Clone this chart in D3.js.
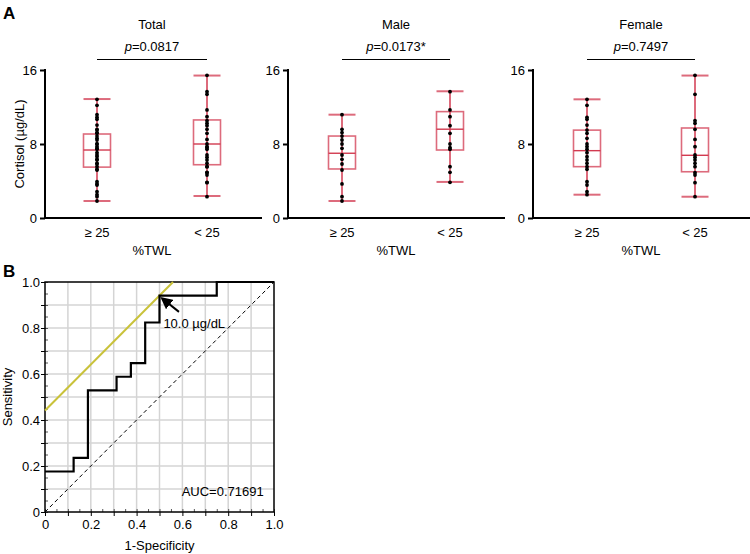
<!DOCTYPE html>
<html><head><meta charset="utf-8">
<script src="https://cdn.jsdelivr.net/npm/d3@7"></script>
<style>body{margin:0;background:#fff}svg{font-family:"Liberation Sans",Arial,sans-serif}</style>
</head><body><svg id="c" width="750" height="554"></svg>
<script>
// ---------- Data ----------
const groups = ["≥ 25", "< 25"];
const panelTitles = ["Total", "Male", "Female"];
const pValues = ["0.0817", "0.0173*", "0.7497"];
const yTicks = [0, 8, 16];

// box stats: [min, q1, median, q3, max]
const totalBox = [[1.84, 5.5, 7.35, 9.08, 12.86], [2.38, 5.76, 8.0, 10.6, 15.4]];
const maleBox = [[1.84, 5.3, 7.0, 8.86, 11.17], [3.9, 7.35, 9.6, 11.5, 13.7]];
const femaleBox = [[2.52, 5.55, 7.28, 9.5, 12.83], [2.3, 5.0, 6.78, 9.73, 15.4]];

const maleGE25 = [11.17, 9.59, 9.23, 8.86, 8.43, 8.0, 7.53, 6.81, 6.34, 5.84, 5.19, 3.68, 2.31, 1.84];
const maleLT25 = [13.66, 11.68, 10.95, 9.98, 9.15, 8.0, 7.6, 7.43, 5.55, 4.94, 3.86];
const femaleGE25 = [12.83, 12.18, 10.88, 10.67, 10.05, 9.51, 9.15, 8.61, 8.0, 7.71, 7.42, 7.06, 6.63, 6.27, 5.91, 5.55, 5.26, 3.93, 3.57, 2.85, 2.52];
const femaleLT25 = [15.42, 13.37, 10.52, 10.23, 9.59, 8.5, 7.71, 6.81, 6.56, 6.27, 5.91, 5.55, 4.9, 4.65, 3.82, 2.31];
const totalGE25 = [12.83, 12.18, 11.17, 10.88, 10.67, 10.05, 9.59, 9.51, 9.23, 9.15, 8.86, 8.61, 8.43, 8.0, 8.0, 7.71, 7.53, 7.42, 7.06, 6.81, 6.63, 6.34, 6.27, 5.91, 5.84, 5.55, 5.26, 5.19, 3.93, 3.68, 3.57, 2.85, 2.52, 2.31, 1.84];
const totalLT25 = [15.42, 13.66, 13.37, 11.68, 10.95, 10.52, 10.23, 9.98, 9.59, 9.15, 8.5, 8.0, 7.71, 7.6, 7.43, 6.81, 6.56, 6.27, 5.91, 5.55, 5.55, 4.94, 4.9, 4.65, 3.86, 3.82, 2.31];

// ROC
const rocFPR = [0, 0.125, 0.125, 0.1875, 0.1875, 0.3125, 0.3125, 0.375, 0.375, 0.4375, 0.4375, 0.5, 0.5, 0.75, 0.75, 1.0];
const rocTPR = [0.176, 0.176, 0.235, 0.235, 0.529, 0.529, 0.588, 0.588, 0.647, 0.647, 0.824, 0.824, 0.941, 0.941, 1.0, 1.0];
const tangentX = [0, 0.559];
const tangentY = [0.441, 1.0];
const rocTicks = [0, 0.2, 0.4, 0.6, 0.8, 1.0];
const rocTickLabels = ["0", "0.2", "0.4", "0.6", "0.8", "1.0"];
const cutoffLabel = "10.0 µg/dL";
const aucLabel = "AUC=0.71691";

// ---------- Drawing ----------
const svg = d3.select("#c");
const RED = "#d23a50";

svg.append("text").attr("x", 3).attr("y", 19).attr("font-size", 17).attr("font-weight", "bold").text("A");
svg.append("text").attr("x", 3).attr("y", 277).attr("font-size", 17).attr("font-weight", "bold").text("B");

const panels = [
  {left: 45, right: 262, c: [97, 207], box: totalBox, pts: [totalGE25, totalLT25]},
  {left: 288, right: 505, c: [342, 450], box: maleBox, pts: [maleGE25, maleLT25]},
  {left: 533, right: 750, c: [587, 695], box: femaleBox, pts: [femaleGE25, femaleLT25]}
];

const y = d3.scaleLinear().domain([0, 16]).range([218, 70]);

panels.forEach((p, i) => {
  const g = svg.append("g");
  const x = d3.scaleOrdinal().domain(groups).range(p.c);
  const mid = (p.c[0] + p.c[1]) / 2;
  g.append("text").attr("x", mid).attr("y", 29).attr("text-anchor", "middle").attr("font-size", 13).text(panelTitles[i]);
  const pt = g.append("text").attr("x", mid).attr("y", 51).attr("text-anchor", "middle").attr("font-size", 13);
  pt.append("tspan").attr("font-style", "italic").text("p");
  pt.append("tspan").text("=" + pValues[i]);
  g.append("line").attr("x1", p.c[0]).attr("x2", p.c[1]).attr("y1", 59.5).attr("y2", 59.5).attr("stroke", "#000").attr("stroke-width", 1.2);

  const ya = g.append("g").attr("transform", `translate(${p.left},0)`)
    .call(d3.axisLeft(y).tickValues(yTicks).tickSize(5).tickFormat(d3.format("d")));
  ya.select(".domain").remove();
  ya.selectAll("line").attr("stroke-width", 2);
  ya.selectAll("text").attr("font-size", 13).attr("font-family", "Liberation Sans, Arial, sans-serif").attr("fill", "#000");
  g.append("line").attr("x1", p.left).attr("x2", p.left).attr("y1", 69).attr("y2", 219).attr("stroke", "#000").attr("stroke-width", 2);
  g.append("line").attr("x1", p.left - 1).attr("x2", p.right).attr("y1", 218).attr("y2", 218).attr("stroke", "#000").attr("stroke-width", 2);

  groups.forEach(gr => {
    g.append("text").attr("x", x(gr)).attr("y", 237).attr("text-anchor", "middle").attr("font-size", 13).text(gr);
  });
  g.append("text").attr("x", mid).attr("y", 255).attr("text-anchor", "middle").attr("font-size", 13).text("%TWL");

  groups.forEach((gr, j) => {
    const b = p.box[j];
    const cx = x(gr), w = 27;
    g.append("line").attr("x1", cx).attr("x2", cx).attr("y1", y(b[0])).attr("y2", y(b[4])).attr("stroke", RED).attr("stroke-width", 1.5);
    g.append("rect").attr("x", cx - w / 2).attr("y", y(b[3])).attr("width", w).attr("height", y(b[1]) - y(b[3]))
      .attr("fill", "none").attr("stroke", RED).attr("stroke-opacity", 0.75).attr("stroke-width", 1.6);
    g.append("line").attr("x1", cx - w / 2).attr("x2", cx + w / 2).attr("y1", y(b[2])).attr("y2", y(b[2])).attr("stroke", RED).attr("stroke-width", 1.4);
    [b[0], b[4]].forEach(v => {
      g.append("line").attr("x1", cx - w / 2).attr("x2", cx + w / 2).attr("y1", y(v)).attr("y2", y(v)).attr("stroke", RED).attr("stroke-opacity", 0.75).attr("stroke-width", 2);
    });
    g.selectAll(null).data(p.pts[j]).enter().append("circle")
      .attr("cx", cx).attr("cy", d => y(d)).attr("r", 1.9).attr("fill", "#000");
  });
});

svg.append("text").attr("transform", "translate(24,144) rotate(-90)").attr("text-anchor", "middle").attr("font-size", 13).text("Cortisol (µg/dL)");

// ---------- ROC ----------
const rx = d3.scaleLinear().domain([0, 1]).range([45, 274]);
const ry = d3.scaleLinear().domain([0, 1]).range([512, 282]);
const rg = svg.append("g");
const grid = d3.range(1, 10).map(k => k / 10);
rg.selectAll(".gv").data(grid).enter().append("line")
  .attr("x1", d => rx(d)).attr("x2", d => rx(d)).attr("y1", ry(0)).attr("y2", ry(1)).attr("stroke", "#d4d4d4").attr("stroke-width", 1.5);
rg.selectAll(".gh").data(grid).enter().append("line")
  .attr("y1", d => ry(d)).attr("y2", d => ry(d)).attr("x1", rx(0)).attr("x2", rx(1)).attr("stroke", "#d4d4d4").attr("stroke-width", 1.5);

const minor = d3.range(0, 21).map(k => k / 20);
const xin = rg.append("g").attr("transform", `translate(0,${ry(0)})`)
  .call(d3.axisTop(rx).tickValues(minor).tickSize(3).tickFormat(""));
xin.select(".domain").remove();
xin.selectAll("line").attr("stroke", "#555");
const yin = rg.append("g").attr("transform", `translate(${rx(0)},0)`)
  .call(d3.axisRight(ry).tickValues(minor).tickSize(3).tickFormat(""));
yin.select(".domain").remove();
yin.selectAll("line").attr("stroke", "#555");

const xa = rg.append("g").attr("transform", `translate(0,${ry(0)})`)
  .call(d3.axisBottom(rx).tickValues(d3.range(0, 11).map(k => k / 10)).tickSize(4).tickFormat(""));
xa.select(".domain").remove();
const xl = rg.append("g").attr("transform", `translate(0,${ry(0)})`)
  .call(d3.axisBottom(rx).tickValues(rocTicks).tickSize(0).tickPadding(8).tickFormat((d, i) => rocTickLabels[i]));
xl.select(".domain").remove();
xl.selectAll("text").attr("font-size", 13).attr("fill", "#000").attr("font-family", "Liberation Sans, Arial, sans-serif");
const yaR = rg.append("g").attr("transform", `translate(${rx(0)},0)`)
  .call(d3.axisLeft(ry).tickValues(d3.range(0, 11).map(k => k / 10)).tickSize(4).tickFormat(""));
yaR.select(".domain").remove();
const ylR = rg.append("g").attr("transform", `translate(${rx(0)},0)`)
  .call(d3.axisLeft(ry).tickValues(rocTicks).tickSize(0).tickPadding(5).tickFormat((d, i) => rocTickLabels[i]));
ylR.select(".domain").remove();
ylR.selectAll("text").attr("font-size", 13).attr("fill", "#000").attr("font-family", "Liberation Sans, Arial, sans-serif");

rg.append("rect").attr("x", rx(0)).attr("y", ry(1)).attr("width", rx(1) - rx(0)).attr("height", ry(0) - ry(1))
  .attr("fill", "none").attr("stroke", "#000").attr("stroke-width", 1.5);

rg.append("line").attr("x1", rx(0)).attr("y1", ry(0)).attr("x2", rx(1)).attr("y2", ry(1))
  .attr("stroke", "#000").attr("stroke-width", 1).attr("stroke-dasharray", "4,3");

rg.append("line").attr("x1", rx(tangentX[0])).attr("y1", ry(tangentY[0])).attr("x2", rx(tangentX[1])).attr("y2", ry(tangentY[1]))
  .attr("stroke", "#c9c23a").attr("stroke-width", 2);

const line = d3.line().x(d => rx(d[0])).y(d => ry(d[1]));
rg.append("path").datum(rocFPR.map((f, i) => [f, rocTPR[i]])).attr("d", line)
  .attr("fill", "none").attr("stroke", "#000").attr("stroke-width", 2.2);

const defs = svg.append("defs");
defs.append("marker").attr("id", "ah").attr("viewBox", "0 0 10 10").attr("refX", 8).attr("refY", 5)
  .attr("markerWidth", 6).attr("markerHeight", 6).attr("orient", "auto").attr("markerUnits", "strokeWidth")
  .append("path").attr("d", "M0,0 L10,5 L0,10 z").attr("fill", "#000");
rg.append("line").attr("x1", rx(0.585)).attr("y1", ry(0.87)).attr("x2", rx(0.512)).attr("y2", ry(0.928))
  .attr("stroke", "#000").attr("stroke-width", 2).attr("marker-end", "url(#ah)");
rg.append("text").attr("x", rx(0.517)).attr("y", ry(0.8)).attr("font-size", 13).text(cutoffLabel);
rg.append("text").attr("x", rx(0.955)).attr("y", ry(0.068)).attr("text-anchor", "end").attr("font-size", 13).text(aucLabel);

rg.append("text").attr("transform", `translate(12,${(ry(0) + ry(1)) / 2}) rotate(-90)`).attr("text-anchor", "middle").attr("font-size", 13).text("Sensitivity");
rg.append("text").attr("x", (rx(0) + rx(1)) / 2).attr("y", 550).attr("text-anchor", "middle").attr("font-size", 13).text("1-Specificity");
</script></body></html>
